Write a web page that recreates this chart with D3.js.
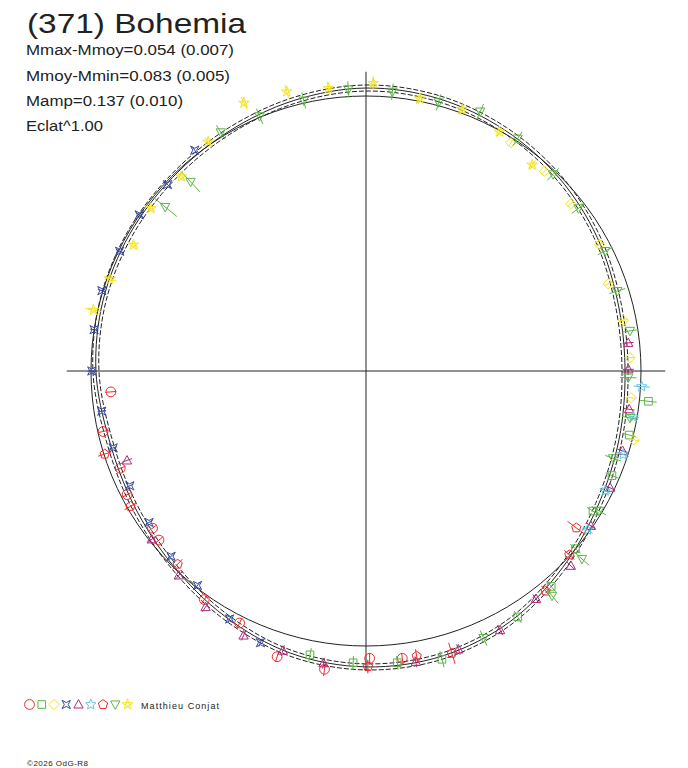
<!DOCTYPE html>
<html>
<head>
<meta charset="utf-8">
<script src="https://cdn.jsdelivr.net/npm/d3@7"></script>
<style>
  body { margin: 0; background: #fff; }
  svg { display: block; }
  text { font-family: "Liberation Sans", Arial, sans-serif; fill: #222; }
</style>
</head>
<body>
<div id="chart"></div>
<script>
// Header texts
const title = '(371) Bohemia';
const infoLines = ['Mmax-Mmoy=0.054 (0.007)', 'Mmoy-Mmin=0.083 (0.005)', 'Mamp=0.137 (0.010)', 'Eclat^1.00'];
const author = 'Matthieu Conjat';
const credit = '\u00a92026 OdG-R8';

// Fitted lightcurve: rotational phase vs relative flux (1 = mean)
const modelPhase = [0, 0.0417, 0.0833, 0.125, 0.1667, 0.2083, 0.25, 0.2917, 0.3333, 0.375, 0.4167, 0.4583,
                    0.5, 0.5417, 0.5833, 0.625, 0.6667, 0.7083, 0.75, 0.7917, 0.8333, 0.875, 0.9167, 0.9583];
const modelFlux = [1.029, 1.025, 1.011, 0.993, 0.971, 0.949, 0.942, 0.953, 0.975, 1.011, 1.051, 1.073,
                   1.076, 1.062, 1.029, 0.996, 0.975, 0.967, 0.982, 0.990, 0.993, 0.995, 1.004, 1.018];
const modelSigma = 0.011;
const meanFlux = 1;
const axisExtent = 1.088;

// Observations per session: [phase, relative flux, error]
const sessCircle = [[0.480, 1.053, 0.02], [0.498, 1.045, 0.02], [0.522, 1.095, 0.025], [0.548, 1.088, 0.02],
  [0.574, 1.025, 0.02], [0.598, 1.018, 0.02], [0.641, 0.972, 0.02], [0.649, 0.964, 0.02], [0.674, 0.978, 0.02],
  [0.690, 0.961, 0.02], [0.714, 0.981, 0.02], [0.737, 0.931, 0.02]];
const sessSquare = [[0.267, 1.033, 0.03], [0.288, 0.985, 0.025], [0.314, 0.972, 0.025], [0.338, 0.970, 0.025],
  [0.362, 0.999, 0.025], [0.387, 1.033, 0.025], [0.412, 1.051, 0.025], [0.459, 1.084, 0.03], [0.483, 1.067, 0.025],
  [0.507, 1.062, 0.025], [0.531, 1.052, 0.025]];
const sessDiamond = [[0.090, 0.983, 0.015], [0.116, 0.974, 0.015], [0.141, 0.962, 0.015], [0.171, 0.965, 0.015],
  [0.195, 0.936, 0.015], [0.219, 0.954, 0.015], [0.242, 0.961, 0.015], [0.266, 0.969, 0.015], [0.290, 1.006, 0.018]];
const sessAstroid = [[0.559, 1.060, 0.015], [0.580, 1.029, 0.015], [0.606, 0.992, 0.015], [0.629, 0.978, 0.015],
  [0.653, 0.962, 0.015], [0.678, 0.955, 0.015], [0.703, 0.961, 0.015], [0.726, 0.972, 0.015], [0.750, 0.997, 0.015],
  [0.774, 1.000, 0.015], [0.797, 1.004, 0.015], [0.822, 0.996, 0.015], [0.846, 1.001, 0.015], [0.870, 0.990, 0.015],
  [0.895, 1.016, 0.015]];
const sessTriangle = [[0.233, 0.959, 0.02], [0.249, 0.954, 0.02], [0.273, 0.967, 0.02], [0.298, 0.977, 0.02],
  [0.321, 0.984, 0.02], [0.346, 0.993, 0.02], [0.371, 1.028, 0.02], [0.398, 1.034, 0.02], [0.424, 1.061, 0.02],
  [0.449, 1.067, 0.02], [0.473, 1.073, 0.02], [0.523, 1.074, 0.02], [0.546, 1.061, 0.02], [0.569, 1.060, 0.02],
  [0.595, 1.038, 0.02], [0.618, 1.008, 0.02], [0.644, 0.991, 0.02], [0.693, 0.928, 0.02]];
const sessStar = [[0.259, 1.004, 0.03], [0.277, 0.986, 0.022], [0.300, 0.983, 0.022], [0.324, 0.973, 0.022],
  [0.349, 0.992, 0.022]];
const sessPentagon = [[0.352, 0.954, 0.04], [0.367, 0.997, 0.025], [0.391, 1.033, 0.025], [0.453, 1.073, 0.04],
  [0.472, 1.053, 0.025], [0.499, 1.075, 0.025], [0.623, 0.981, 0.025], [0.667, 0.988, 0.025], [0.701, 0.997, 0.025]];
const sessTriDown = [[0.937, 1.004, 0.03], [0.913, 1.016, 0.03], [0.964, 1.009, 0.03], [0.990, 1.026, 0.03],
  [0.015, 1.020, 0.03], [0.042, 1.012, 0.03], [0.066, 1.031, 0.03], [0.092, 1.009, 0.03], [0.121, 0.987, 0.03],
  [0.146, 0.973, 0.03], [0.176, 0.973, 0.03], [0.201, 0.959, 0.03], [0.226, 0.971, 0.03], [0.254, 0.954, 0.03],
  [0.278, 0.975, 0.03], [0.304, 0.953, 0.03], [0.336, 0.988, 0.03], [0.364, 1.041, 0.035], [0.390, 1.061, 0.035],
  [0.434, 1.061, 0.03], [0.859, 0.943, 0.055], [0.881, 0.938, 0.05]];
const sessYellowStar = [[0.932, 1.071, 0.025], [0.956, 1.056, 0.025], [0.979, 1.037, 0.025], [0.004, 1.047, 0.025],
  [0.031, 1.009, 0.02], [0.056, 1.013, 0.02], [0.081, 0.996, 0.02], [0.108, 0.963, 0.02], [0.785, 1.016, 0.03],
  [0.805, 0.989, 0.025], [0.829, 0.962, 0.02], [0.853, 0.981, 0.02], [0.879, 0.975, 0.02], [0.904, 1.012, 0.02]];

// Marker shapes (custom d3.symbol types, size = radius^2)
function polygonType(pts) {
  return {
    draw(ctx, size) {
      const r = Math.sqrt(size);
      pts.forEach(([x, y], i) => i ? ctx.lineTo(x * r, y * r) : ctx.moveTo(x * r, y * r));
      ctx.closePath();
    }
  };
}
function ring(n, rot, radii) {
  return d3.range(n).map(i => {
    const a = rot + i * 2 * Math.PI / n;
    const k = radii[i % radii.length];
    return [k * Math.sin(a), -k * Math.cos(a)];
  });
}
const shapeCircle = { draw(ctx, size) { const r = Math.sqrt(size); ctx.moveTo(r, 0); ctx.arc(0, 0, r, 0, 2 * Math.PI); } };
const shapeSquare = polygonType([[-0.78, -0.78], [0.78, -0.78], [0.78, 0.78], [-0.78, 0.78]]);
const shapeDiamond = polygonType([[0, -1.05], [1.05, 0], [0, 1.05], [-1.05, 0]]);
const shapeAstroid = polygonType([[-0.85, -0.85], [0, -0.4], [0.85, -0.85], [0.4, 0], [0.85, 0.85], [0, 0.4], [-0.85, 0.85], [-0.4, 0]]);
const shapeTriangle = polygonType([[0, -1], [0.95, 0.72], [-0.95, 0.72]]);
const shapeStar = polygonType(ring(10, 0, [1.1, 0.5]));
const shapePentagon = polygonType(ring(5, 0, [1]));
const shapeTriDown = polygonType([[0, 1], [0.95, -0.72], [-0.95, -0.72]]);
const pentagramPts = ring(5, 0, [1.15]);
const shapePentagram = polygonType([0, 2, 4, 1, 3].map(i => pentagramPts[i]));

const sessions = [
  { points: sessCircle, shape: shapeCircle, color: '#ee2b2b' },
  { points: sessSquare, shape: shapeSquare, color: '#5bb446' },
  { points: sessDiamond, shape: shapeDiamond, color: '#f2e21c' },
  { points: sessAstroid, shape: shapeAstroid, color: '#3149a0' },
  { points: sessTriangle, shape: shapeTriangle, color: '#b02a7c' },
  { points: sessStar, shape: shapeStar, color: '#62c6e4' },
  { points: sessPentagon, shape: shapePentagon, color: '#ef2a2a' },
  { points: sessTriDown, shape: shapeTriDown, color: '#5db647' },
  { points: sessYellowStar, shape: shapePentagram, color: '#f4e41c' }
];

const width = 688, height = 768;
const cx = 366, cy = 371;
const markerSize = 24;

const svg = d3.select('#chart').append('svg')
  .attr('width', width)
  .attr('height', height);

// Header (glyphs stretched to the widths of the original rendering)
svg.append('text')
  .attr('x', 27).attr('y', 33)
  .attr('font-size', 28)
  .attr('textLength', 219).attr('lengthAdjust', 'spacingAndGlyphs')
  .text(title);

const infoY = [55, 81, 106, 131];
const infoW = [208, 204, 157, 77];
svg.selectAll('.info')
  .data(infoLines)
  .enter()
  .append('text')
  .attr('class', 'info')
  .attr('x', 26)
  .attr('y', (d, i) => infoY[i])
  .attr('font-size', 14)
  .attr('textLength', (d, i) => infoW[i]).attr('lengthAdjust', 'spacingAndGlyphs')
  .text(d => d);

// Polar scales: phase -> angle (0 at top, clockwise), flux -> radius
const angle = d3.scaleLinear().domain([0, 1]).range([0, 2 * Math.PI]);
const radius = d3.scaleLinear().domain([0, 1]).range([0, 275]);

const plot = svg.append('g').attr('transform', `translate(${cx},${cy})`);

// Axes through the centre
const ext = radius(axisExtent);
plot.append('line')
  .attr('x1', -ext).attr('x2', ext).attr('y1', 0).attr('y2', 0)
  .attr('stroke', '#222').attr('stroke-width', 1);
plot.append('line')
  .attr('x1', 0).attr('x2', 0).attr('y1', -ext).attr('y2', ext)
  .attr('stroke', '#222').attr('stroke-width', 1);

// Mean-magnitude circle
plot.append('circle')
  .attr('r', radius(meanFlux))
  .attr('fill', 'none')
  .attr('stroke', '#222')
  .attr('stroke-width', 1);

// Model curve and its +/- sigma envelope
const modelData = modelPhase.map((p, i) => ({ p, f: modelFlux[i] }));
const radial = off => d3.lineRadial()
  .angle(d => angle(d.p))
  .radius(d => radius(d.f + off))
  .curve(d3.curveCatmullRomClosed);

plot.append('path')
  .datum(modelData)
  .attr('d', radial(0))
  .attr('fill', 'none')
  .attr('stroke', '#222')
  .attr('stroke-width', 1);

[modelSigma, -modelSigma].forEach(off => {
  plot.append('path')
    .datum(modelData)
    .attr('d', radial(off))
    .attr('fill', 'none')
    .attr('stroke', '#222')
    .attr('stroke-width', 1)
    .attr('stroke-dasharray', '5,2');
});

// Observations with radial error bars
sessions.forEach(s => {
  const g = plot.append('g');
  g.selectAll('line')
    .data(s.points)
    .enter()
    .append('line')
    .attr('x1', d => d3.pointRadial(angle(d[0]), radius(d[1] - d[2]))[0])
    .attr('y1', d => d3.pointRadial(angle(d[0]), radius(d[1] - d[2]))[1])
    .attr('x2', d => d3.pointRadial(angle(d[0]), radius(d[1] + d[2]))[0])
    .attr('y2', d => d3.pointRadial(angle(d[0]), radius(d[1] + d[2]))[1])
    .attr('stroke', s.color)
    .attr('stroke-width', 1);
  g.selectAll('path')
    .data(s.points)
    .enter()
    .append('path')
    .attr('transform', d => `translate(${d3.pointRadial(angle(d[0]), radius(d[1]))})`)
    .attr('d', d3.symbol().type(s.shape).size(markerSize))
    .attr('fill', 'none')
    .attr('stroke', s.color)
    .attr('stroke-width', 1);
});

// Legend of session symbols
const legendX = d3.scalePoint().domain(d3.range(sessions.length)).range([29.5, 127.5]);
svg.append('g')
  .selectAll('path')
  .data(sessions)
  .enter()
  .append('path')
  .attr('transform', (d, i) => `translate(${legendX(i)},704.5)`)
  .attr('d', d => d3.symbol().type(d.shape).size(markerSize)())
  .attr('fill', 'none')
  .attr('stroke', d => d.color)
  .attr('stroke-width', 1);

svg.append('text')
  .attr('x', 141).attr('y', 708.5)
  .attr('font-size', 9)
  .attr('textLength', 78).attr('lengthAdjust', 'spacing')
  .text(author);

svg.append('text')
  .attr('x', 27).attr('y', 765.5)
  .attr('font-size', 8)
  .attr('textLength', 61).attr('lengthAdjust', 'spacing')
  .text(credit);
</script>
</body>
</html>
